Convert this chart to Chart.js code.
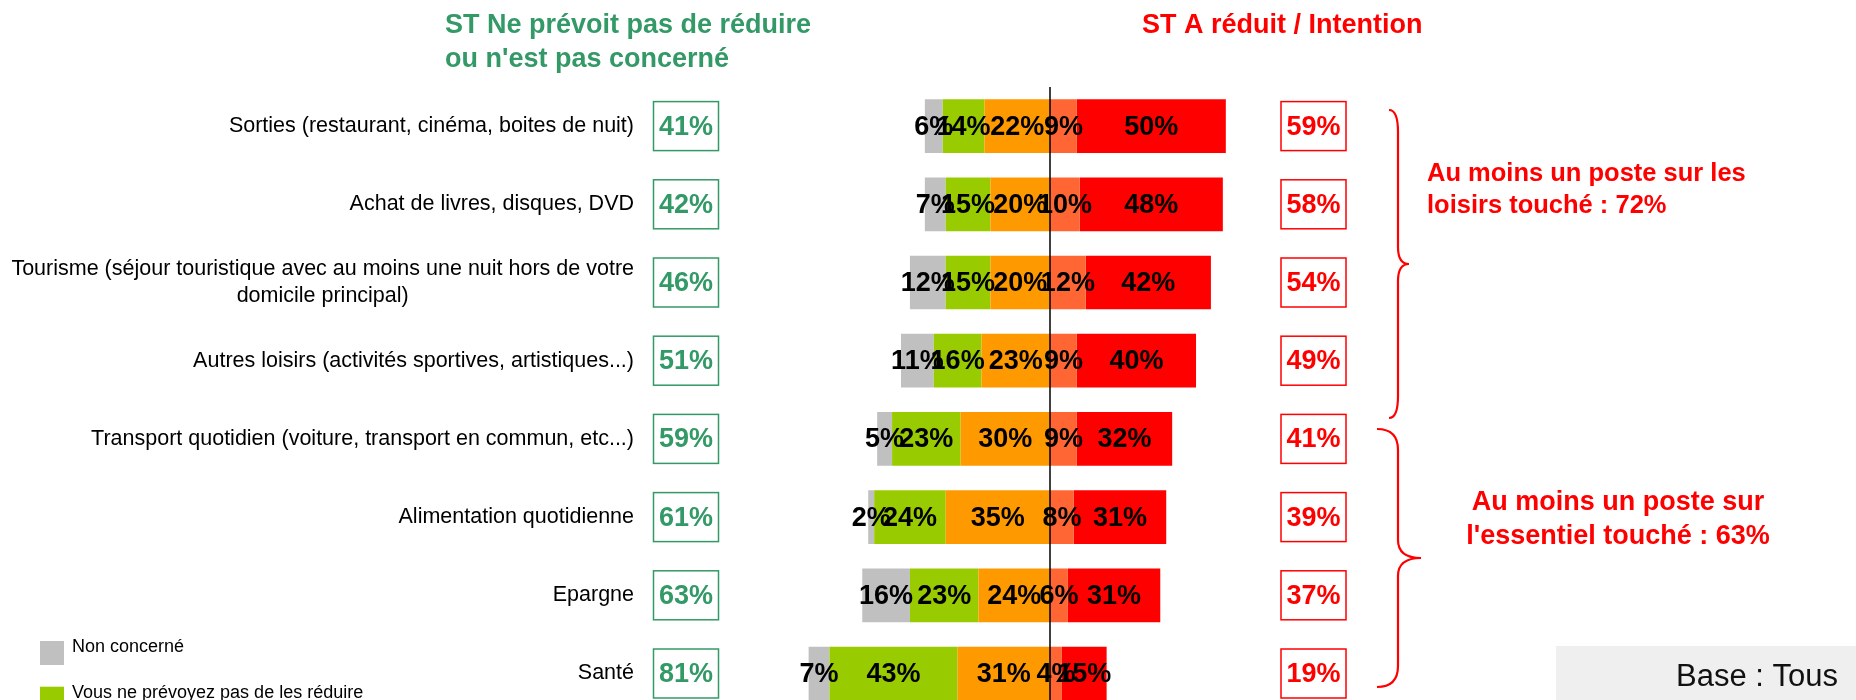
<!DOCTYPE html>
<html>
<head>
<meta charset="utf-8">
<script src="https://cdn.jsdelivr.net/npm/chart.js@4/dist/chart.umd.min.js"></script>
<style>
  body { margin: 0; overflow: hidden; background: #fff; }
  #wrap { position: absolute; left: 0; top: 0; width: 1856px; height: 720px; }
</style>
</head>
<body>
<div id="wrap"><canvas id="chart"></canvas></div>
<script>
// postes de dépense (lignes du graphique)
const categories = [
  "Sorties (restaurant, cinéma, boites de nuit)",
  "Achat de livres, disques, DVD",
  ["Tourisme (séjour touristique avec au moins une nuit hors de votre", "domicile principal)"],
  "Autres loisirs (activités sportives, artistiques...)",
  "Transport quotidien (voiture, transport en commun, etc...)",
  "Alimentation quotidienne",
  "Epargne",
  "Santé"
];

// côté gauche (ne prévoit pas de réduire / pas concerné)
const nonConcerne = [6, 7, 12, 11, 5, 2, 16, 7];
const pasReduire  = [14, 15, 15, 16, 23, 24, 23, 43];
const orangeVals  = [22, 20, 20, 23, 30, 35, 24, 31];
// côté droit (a réduit / intention)
const coralVals   = [9, 10, 12, 9, 9, 8, 6, 4];
const redVals     = [50, 48, 42, 40, 32, 31, 31, 15];

// totaux encadrés
const totalNon    = [41, 42, 46, 51, 59, 61, 63, 81];
const totalReduit = [59, 58, 54, 49, 41, 39, 37, 19];

const legendLabels = ["Non concerné", "Vous ne prévoyez pas de les réduire"];
const legendColors = ["#c0c0c0", "#99cc00"];

const GREEN = "#339966";
const RED = "#ff0000";
const FONT = "'Liberation Sans', Arial, sans-serif";

// accolade à droite des pourcentages
function brace(ctx, xTip, xLine, xPoint, yTop, yBot, r, r2) {
  const yMid = (yTop + yBot) / 2;
  ctx.beginPath();
  ctx.moveTo(xTip, yTop);
  ctx.quadraticCurveTo(xLine, yTop, xLine, yTop + r);
  ctx.lineTo(xLine, yMid - r2);
  ctx.quadraticCurveTo(xLine, yMid, xPoint, yMid);
  ctx.quadraticCurveTo(xLine, yMid, xLine, yMid + r2);
  ctx.lineTo(xLine, yBot - r);
  ctx.quadraticCurveTo(xLine, yBot, xTip, yBot);
  ctx.stroke();
}

function boxValue(ctx, cx, cy, txt, color) {
  ctx.strokeStyle = color;
  ctx.lineWidth = 1.5;
  ctx.strokeRect(cx - 32.5, cy - 24.5, 65, 49);
  ctx.fillStyle = color;
  ctx.font = "bold 27px " + FONT;
  ctx.textAlign = "center";
  ctx.textBaseline = "middle";
  ctx.fillText(txt, cx, cy + 1);
}

const decor = {
  id: "decor",
  afterDatasetsDraw(chart) {
    const ctx = chart.ctx;
    const xs = chart.scales.x;
    const area = chart.chartArea;
    // ligne du zéro
    ctx.save();
    ctx.strokeStyle = "#000";
    ctx.lineWidth = 1.5;
    ctx.beginPath();
    ctx.moveTo(xs.getPixelForValue(0), area.top);
    ctx.lineTo(xs.getPixelForValue(0), area.bottom);
    ctx.stroke();

    // étiquettes des segments
    ctx.font = "bold 27px " + FONT;
    ctx.fillStyle = "#000";
    ctx.textAlign = "center";
    ctx.textBaseline = "middle";
    chart.data.datasets.forEach((ds, di) => {
      chart.getDatasetMeta(di).data.forEach((bar, i) => {
        const v = Math.abs(ds.data[i]);
        ctx.fillText(v + "%", (bar.x + bar.base) / 2, bar.y + 1);
      });
    });
    ctx.restore();
  },
  afterDraw(chart) {
    const ctx = chart.ctx;
    const ys = chart.scales.y;
    ctx.save();

    // titres
    ctx.font = "bold 27px " + FONT;
    ctx.textAlign = "left";
    ctx.textBaseline = "alphabetic";
    ctx.fillStyle = GREEN;
    ctx.fillText("ST Ne prévoit pas de réduire", 445, 33);
    ctx.fillText("ou n'est pas concerné", 445, 67);
    ctx.fillStyle = RED;
    ctx.fillText("ST A réduit / Intention", 1142, 33);

    // libellés des postes
    categories.forEach((lab, i) => {
      const y = ys.getPixelForValue(i);
      ctx.font = "21.5px " + FONT;
      ctx.fillStyle = "#000";
      ctx.textBaseline = "middle";
      if (Array.isArray(lab)) {
        const w = Math.max(...lab.map(l => ctx.measureText(l).width));
        const cx = 634 - w / 2;
        ctx.textAlign = "center";
        lab.forEach((l, k) => {
          ctx.fillText(l, cx, y + (k - (lab.length - 1) / 2) * 27.5);
        });
      } else {
        ctx.textAlign = "right";
        ctx.fillText(lab, 634, y);
      }
      boxValue(ctx, 686, y, totalNon[i] + "%", GREEN);
      boxValue(ctx, 1313.5, y, totalReduit[i] + "%", RED);
    });

    // accolades
    ctx.strokeStyle = RED;
    ctx.lineWidth = 2.2;
    brace(ctx, 1389, 1398, 1409, 110, 418, 22, 17);
    brace(ctx, 1377, 1398, 1421, 429, 687, 21, 18);

    ctx.fillStyle = RED;
    ctx.font = "bold 25.5px " + FONT;
    ctx.textAlign = "left";
    ctx.textBaseline = "alphabetic";
    ctx.fillText("Au moins un poste sur les", 1427, 181);
    ctx.fillText("loisirs touché : 72%", 1427, 213);
    ctx.font = "bold 27px " + FONT;
    ctx.textAlign = "center";
    ctx.fillText("Au moins un poste sur", 1618, 510);
    ctx.fillText("l'essentiel touché : 63%", 1618, 544);

    // légende
    ctx.font = "18px " + FONT;
    ctx.textAlign = "left";
    legendLabels.forEach((l, k) => {
      const top = 641 + k * 45.7;
      ctx.fillStyle = legendColors[k];
      ctx.fillRect(40, top, 24, 24);
      ctx.fillStyle = "#000";
      ctx.fillText(l, 72, top + 11);
    });

    // base
    ctx.fillStyle = "#efefef";
    ctx.fillRect(1556, 646, 300, 80);
    ctx.fillStyle = "#111";
    ctx.font = "31px " + FONT;
    ctx.fillText("Base : Tous", 1676, 686);
    ctx.restore();
  }
};

new Chart(document.getElementById("chart"), {
  type: "bar",
  data: {
    labels: categories,
    datasets: [
      { data: orangeVals.map(v => -v), backgroundColor: "#ff9900" },
      { label: legendLabels[1], data: pasReduire.map(v => -v), backgroundColor: "#99cc00" },
      { label: legendLabels[0], data: nonConcerne.map(v => -v), backgroundColor: "#c0c0c0" },
      { data: coralVals, backgroundColor: "#ff6633" },
      { data: redVals, backgroundColor: "#ff0000" }
    ]
  },
  options: {
    indexAxis: "y",
    responsive: true,
    maintainAspectRatio: false,
    animation: false,
    barPercentage: 0.687,
    categoryPercentage: 1,
    layout: { padding: { left: 752, right: 508, top: 87, bottom: 7.4 } },
    scales: {
      x: { stacked: true, min: -100, max: 100, display: false },
      y: { stacked: true, display: false }
    },
    plugins: { legend: { display: false }, tooltip: { enabled: false } }
  },
  plugins: [decor]
});
</script>
</body>
</html>
